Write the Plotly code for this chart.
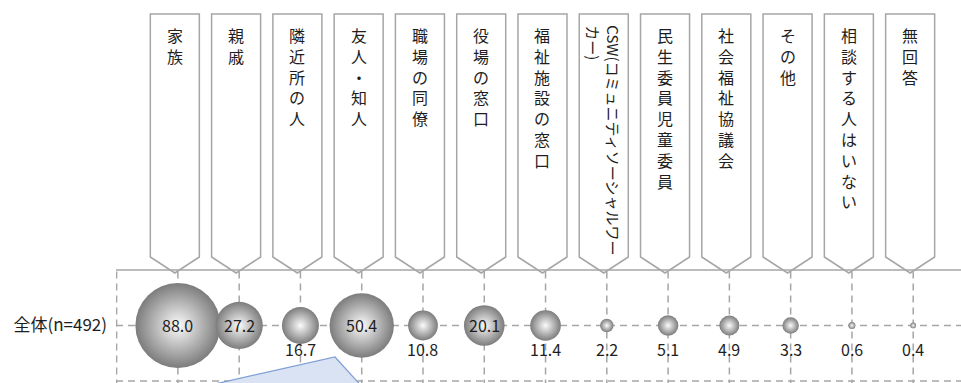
import plotly.graph_objects as go

# ----------------------------
# DATA
# ----------------------------
categories = ["家族", "親戚", "隣近所の人", "友人・知人", "職場の同僚", "役場の窓口",
              "福祉施設の窓口", "CSW(コミュニティソーシャルワーカー)", "民生委員児童委員",
              "社会福祉協議会", "その他", "相談する人はいない", "無回答"]
values = [88.0, 27.2, 16.7, 50.4, 10.8, 20.1, 11.4, 2.2, 5.1, 4.9, 3.3, 0.6, 0.4]
row_label = "全体(n=492)"

# ----------------------------
# LAYOUT HELPERS (pixel -> axis units)
# ----------------------------
W, H = 961, 383
ML = 116
X_MIN, X_MAX = -1.01, 12.78
Y_BOT, Y_TOP = -1.038, 5.875

GRID = "#a6a6a6"
FONT = "Noto Sans CJK JP"
TXT = "#1e1e1e"


def yp(p):
    return Y_TOP - p * (Y_TOP - Y_BOT) / H


def xp(p):
    return X_MIN + (p - ML) * (X_MAX - X_MIN) / (W - ML)


x = list(range(len(categories)))
y = [0] * len(categories)

fig = go.Figure()

fig.add_trace(go.Scatter(
    x=x,
    y=y,
    mode="markers",
    marker=dict(
        size=values,
        sizemode="area",
        sizeref=2 * max(values) / 85 ** 2,
        color="#7c7c7c",
        gradient=dict(type="radial", color="#fbfbfb"),
        line=dict(width=0),
        opacity=1,
    ),
    hoverinfo="text",
    text=[f"{c}: {v:.1f}" for c, v in zip(categories, values)],
))

shapes = []

# header boxes (pentagon arrows)
half = 0.40
off = -0.05
for i in x:
    c = i + off
    path = (f"M {c - half},{yp(14)} L {c + half},{yp(14)} L {c + half},{yp(257)} "
            f"L {c},{yp(273)} L {c - half},{yp(257)} Z")
    shapes.append(dict(type="path", path=path, xref="x", yref="y", layer="below",
                       fillcolor="white", line=dict(color=GRID, width=1.5)))

# grid
dash = "7px,5px"
shapes.append(dict(type="line", x0=X_MIN, x1=X_MAX, y0=1, y1=1, layer="below",
                   line=dict(color=GRID, width=1.5)))
for yy in [0, -1]:
    shapes.append(dict(type="line", x0=X_MIN, x1=X_MAX, y0=yy, y1=yy, layer="below",
                       line=dict(color=GRID, width=1.5, dash=dash)))
shapes.append(dict(type="line", x0=-1, x1=-1, y0=-1.1, y1=1, layer="below",
                   line=dict(color=GRID, width=1.5, dash=dash)))
for i in x:
    shapes.append(dict(type="line", x0=i, x1=i, y0=-1.1, y1=1, layer="below",
                       line=dict(color=GRID, width=1.5, dash=dash)))

# light blue callout at the bottom
shapes.append(dict(type="path", layer="below",
                   path=f"M {xp(188)},{yp(390)} L {xp(335)},{yp(357)} L {xp(365)},{yp(390)} Z",
                   fillcolor="#dae3f3", line=dict(color="#7f9fd4", width=1.2)))

annotations = []

# header text (vertical)
for i, name in enumerate(categories):
    c = i + off
    if name.startswith("CSW"):
        annotations.append(dict(
            x=c, y=yp(23), xref="x", yref="y", xanchor="center", yanchor="top",
            text="CSW(コミュニティソーシャルワー<br>カー)", textangle=90, align="left",
            showarrow=False, font=dict(family=FONT, size=15, color=TXT)))
        continue
    annotations.append(dict(
        x=c, y=yp(21), xref="x", yref="y", xanchor="center", yanchor="top",
        text="<br>".join(name), showarrow=False,
        font=dict(family=FONT, size=16, color=TXT)))

# value labels
for i, v in enumerate(values):
    inside = v >= 20
    annotations.append(dict(
        x=i, y=0, xref="x", yref="y", text=f"{v:.1f}", showarrow=False,
        yshift=0 if inside else -24,
        font=dict(family=FONT, size=16, color=TXT)))

fig.update_layout(
    width=W,
    height=H,
    margin=dict(l=ML, r=0, t=0, b=0),
    plot_bgcolor="white",
    paper_bgcolor="white",
    showlegend=False,
    shapes=shapes,
    annotations=annotations,
    xaxis=dict(range=[X_MIN, X_MAX], visible=False, fixedrange=True, automargin=False),
    yaxis=dict(range=[Y_BOT, Y_TOP], tickvals=[0], ticktext=[row_label],
               showgrid=False, zeroline=False, showline=False, ticks="",
               ticklabelstandoff=8, fixedrange=True, automargin=False,
               tickfont=dict(family=FONT, size=17, color=TXT)),
)

fig.write_html("out.html", config={"displayModeBar": False},
               post_script="document.body.style.margin='0';")
